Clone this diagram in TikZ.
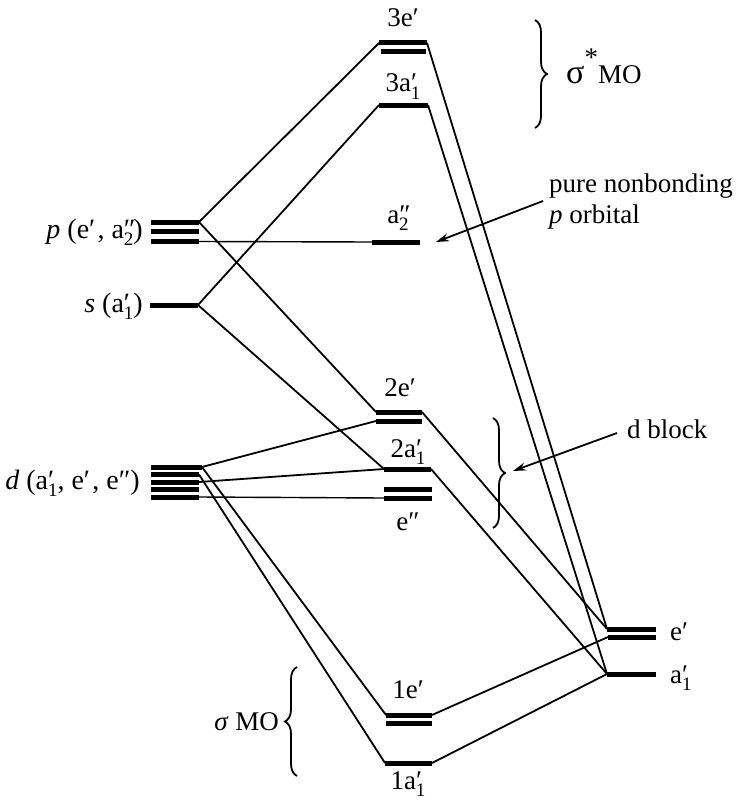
\documentclass[tikz,border=0pt]{standalone}
\usepackage{fontspec}
\setmainfont{Liberation Serif}
\usetikzlibrary{arrows.meta,decorations.pathreplacing}
\newcommand\lvl[3]{#1\makebox[0pt][l]{#2}\raisebox{-0.28em}{\fontsize{19}{19}\selectfont #3}}
\newcommand\prm{′\kern0.08em}
\tikzset{
  bar/.style={rectangle, fill=black, draw=none, minimum height=5pt, inner sep=0pt, outer sep=0pt},
  conn/.style={line width=1.8pt},
  lbl/.style={inner sep=0pt, anchor=base},
  aolbl/.style={inner sep=0pt, anchor=base east, font=\fontsize{28}{32}\selectfont},
  brc/.style={line width=1.8pt, decorate, decoration={brace, amplitude=12pt}},
  arr/.style={line width=1.8pt, -{Stealth[length=13pt,width=8pt]}}
}
\begin{document}
\begin{tikzpicture}[x=1pt, y=-1pt, font=\fontsize{27}{31}\selectfont]
\useasboundingbox (0,0) rectangle (736,800);
% left AO levels
\node[bar, minimum width=48pt] (p1) at (175,222) {};
\node[bar, minimum width=48pt] (p2) at (175,231.5) {};
\node[bar, minimum width=48pt] (p3) at (175,241.5) {};
\node[bar, minimum width=48pt] (s) at (174,305) {};
\node[bar, minimum width=51pt] (d1) at (176.5,467) {};
\node[bar, minimum width=48pt] (d2) at (175,474.5) {};
\node[bar, minimum width=48pt] (d3) at (175,482) {};
\node[bar, minimum width=48pt] (d4) at (175,489.5) {};
\node[bar, minimum width=48pt] (d5) at (175,497) {};
% middle MO levels
\node[bar, minimum width=48pt] (e3a) at (403,43) {};
\node[bar, minimum width=45pt] (e3b) at (403.5,52) {};
\node[bar, minimum width=49pt] (a3) at (403.5,105) {};
\node[bar, minimum width=48pt] (a2pp) at (396,242) {};
\node[bar, minimum width=46pt] (e2a) at (399,412) {};
\node[bar, minimum width=46pt] (e2b) at (399,421) {};
\node[bar, minimum width=47pt] (a2) at (407.5,469) {};
\node[bar, minimum width=48pt] (epa) at (408,489) {};
\node[bar, minimum width=48pt] (epb) at (408,498) {};
\node[bar, minimum width=46pt] (e1a) at (409,715) {};
\node[bar, minimum width=46pt] (e1b) at (409,723) {};
\node[bar, minimum width=47pt] (a1) at (408.5,763) {};
% right levels
\node[bar, minimum width=49pt] (ra) at (631.5,629) {};
\node[bar, minimum width=48pt] (rb) at (632,637) {};
\node[bar, minimum width=49pt] (ra1) at (631.5,674) {};
% connectors
\draw[conn] (p1.east) -- (e3a.west);
\draw[conn] (p1.east) -- (e2a.west);
\draw[conn, line width=1.4pt] (p3.east) -- (a2pp.west);
\draw[conn] (s.east) -- (a3.west);
\draw[conn] (s.east) -- (a2.west);
\draw[conn] (d1.east) -- (e2b.west);
\draw[conn] (d3.east) -- (a2.west);
\draw[conn, line width=1.4pt] (d5.east) -- (epb.west);
\draw[conn] (d1.east) -- (e1a.west);
\draw[conn] (d2.east) -- (a1.west);
\draw[conn] (e3a.east) -- (ra.west);
\draw[conn] (a3.east) -- (ra1.west);
\draw[conn] (e2a.east) -- (ra.west);
\draw[conn] (a2.east) -- (ra1.west);
\draw[conn] (e1a.east) -- (rb.west);
\draw[conn] (a1.east) -- (ra1.west);
% MO labels
\node[lbl] (t3e) at (403,27) {3e′};
\node[lbl] (t3a) at (403,92) {3\lvl{a}{′}{1}};
\node[lbl] (ta2pp) at (398,223) {\lvl{a}{″}{2}};
\node[lbl] (t2e) at (400,396) {2e′};
\node[lbl] (t2a) at (408,457) {2\lvl{a}{′}{1}};
\node[lbl] (tepp) at (408,530) {e″};
\node[lbl] (t1e) at (408,698) {1e′};
\node[lbl] (t1a) at (408,789) {1\lvl{a}{′}{1}};
\node[lbl, anchor=base west] (tre) at (670,640) {e′};
\node[lbl, anchor=base west] (tra) at (670,683) {\lvl{a}{′}{1}};
% AO labels
\node[aolbl] (tp) at (143,238) {\textit{p} (e\prm, \lvl{a}{″}{2})};
\node[aolbl] (ts) at (143,312) {\textit{s} (\lvl{a}{′}{1})};
\node[aolbl] (td) at (140,489) {\textit{d} (\lvl{a}{′}{1}, e\prm, e″)};
% braces
\draw[brc] (535,20) -- (535,128);
\draw[brc] (493,418) -- (493,528);
\draw[brc] (297,776) -- (297,667);
\node[lbl, anchor=base west] (tsig) at (566,83) {{\fontsize{34}{34}\selectfont σ}\raisebox{0.6em}{*}MO};
\node[lbl, anchor=base east] (tsmo) at (279,730) {\textit{σ} MO};
% annotations
\node[lbl, anchor=base west] (tpn) at (549,192) {pure nonbonding};
\node[lbl, anchor=base west] (tpo) at (549,223) {\textit{p} orbital};
\node[lbl, anchor=base west] (tdb) at (627,438) {d block};
\coordinate (pntail) at (543,201);
\coordinate (pntip) at (436,242);
\coordinate (dbtail) at (617,433);
\coordinate (dbtip) at (513,471);
\draw[arr] (pntail) -- (pntip);
\draw[arr] (dbtail) -- (dbtip);
\end{tikzpicture}
\end{document}
